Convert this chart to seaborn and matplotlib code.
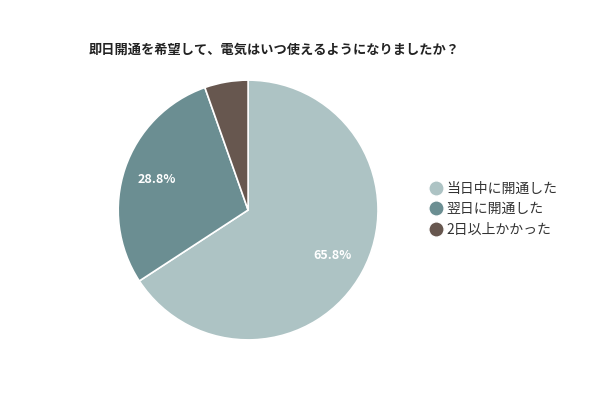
import matplotlib
matplotlib.use('Agg')
import matplotlib.pyplot as plt
from matplotlib.lines import Line2D
import seaborn as sns

# Data
labels = ['当日中に開通した', '翌日に開通した', '2日以上かかった']
shares = [65.8, 28.8, 5.4]
colors = ['#adc3c4', '#6b8e92', '#67574f']
title = '即日開通を希望して、電気はいつ使えるようになりましたか？'

sns.set_theme(style='white')
plt.rcParams['font.family'] = ['Noto Sans CJK JP', 'DejaVu Sans']

fig = plt.figure(figsize=(6, 4), dpi=100)
ax = fig.add_axes([0.197, 0.15, 0.433, 0.65])

wedges, texts, autotexts = ax.pie(
    shares, colors=colors, startangle=90, counterclock=False,
    autopct=lambda p: f'{p:.1f}%' if p > 10 else '', pctdistance=0.74,
    wedgeprops=dict(edgecolor='white', linewidth=1.2),
)
for t in autotexts:
    t.set_color('white')
    t.set_fontsize(9)
    t.set_fontweight('bold')
ax.set_xlim(-1.0, 1.0)
ax.set_ylim(-1.0, 1.0)
ax.set_aspect('equal')

fig.text(0.147, 0.875, title, fontsize=9.5, fontweight='bold', color='#222222',
         ha='left', va='center')

# circular legend markers
handles = [Line2D([0], [0], marker='o', color='w', markerfacecolor=c,
                  markersize=11, linestyle='') for c in colors]
fig.legend(handles, labels, loc='center left', bbox_to_anchor=(0.695, 0.477),
           frameon=False, fontsize=10, handlelength=0.9, handletextpad=0.35,
           labelspacing=0.45, labelcolor='#333333')

fig.savefig('out.png', dpi=100)
